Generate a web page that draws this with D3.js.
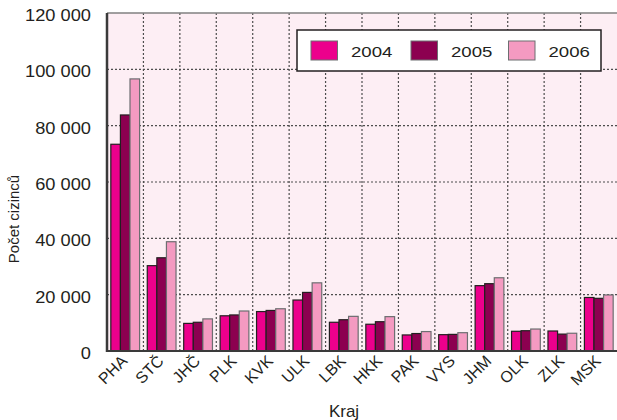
<!DOCTYPE html>
<html><head><meta charset="utf-8">
<script src="https://cdn.jsdelivr.net/npm/d3@7"></script>
<style>body{margin:0;background:#fff}svg{display:block}text{font-family:"Liberation Sans",Arial,sans-serif;fill:#231f20}</style>
</head><body><svg id="c" width="617" height="420"></svg>
<script>
const categories = ["PHA","STČ","JHČ","PLK","KVK","ULK","LBK","HKK","PAK","VYS","JHM","OLK","ZLK","MSK"];
const years = ["2004","2005","2006"];
const v2004 = [73400,30300,9800,12500,14000,18100,10200,9500,5700,5800,23200,7000,7100,19000];
const v2005 = [83800,33100,10200,12800,14400,20800,11100,10400,6200,5900,23900,7200,6000,18700];
const v2006 = [96600,38800,11400,14200,15000,24200,12300,12200,6900,6500,26000,7800,6300,19900];
const yTicks = [0,20000,40000,60000,80000,100000,120000];
const colors = ["#ec008c","#8c0050","#f49ac1"];
const strokes = ["#231f20","#231f20","#6d6e71"];
const series = [v2004,v2005,v2006];

const svg = d3.select("#c");
const L=107, T=13, R=617, B=351;
const x = d3.scaleBand().domain(categories).range([L,R]);
const xs = d3.scaleBand().domain(years).range([0,x.bandwidth()]).paddingOuter(0.4);
const y = d3.scaleLinear().domain([0,120000]).range([B,T]);

svg.append("rect").attr("x",L).attr("y",T).attr("width",R-L).attr("height",B-T).attr("fill","#fdeef4");

const fmt = d => d3.format(",")(d).replace(/,/g," ");
function stretch(sel, k){ sel.each(function(){ const w=this.getComputedTextLength(); d3.select(this).attr("textLength",w*k).attr("lengthAdjust","spacingAndGlyphs"); }); }

// grid
svg.append("g").selectAll("line").data(yTicks.filter(d=>d>0&&d<120000)).join("line")
  .attr("x1",L).attr("x2",R).attr("y1",d=>y(d)).attr("y2",d=>y(d))
  .attr("stroke","#4d4d4d").attr("stroke-width",1.2).attr("stroke-dasharray","2,2");
svg.append("g").selectAll("line").data(categories.slice(1)).join("line")
  .attr("x1",d=>x(d)).attr("x2",d=>x(d)).attr("y1",T).attr("y2",B)
  .attr("stroke","#4d4d4d").attr("stroke-width",1.2).attr("stroke-dasharray","2,2");

// bars
series.forEach((s,i)=>{
  svg.append("g").selectAll("rect").data(s).join("rect")
    .attr("x",(d,j)=>x(categories[j])+xs(years[i]))
    .attr("y",d=>y(d)).attr("width",xs.bandwidth()).attr("height",d=>B-y(d))
    .attr("fill",colors[i]).attr("stroke",strokes[i]).attr("stroke-width",1.2);
});

// frame
svg.append("line").attr("x1",L).attr("x2",R).attr("y1",T).attr("y2",T).attr("stroke","#808080").attr("stroke-width",1.5);
svg.append("line").attr("x1",L).attr("x2",R).attr("y1",B).attr("y2",B).attr("stroke","#3a3a3a").attr("stroke-width",2);
svg.append("line").attr("x1",L).attr("x2",L).attr("y1",T).attr("y2",B+1).attr("stroke","#3a3a3a").attr("stroke-width",2.5);

// y axis
const ya = svg.append("g").attr("transform",`translate(${L},0)`)
  .call(d3.axisLeft(y).tickValues(yTicks).tickFormat(fmt).tickSize(0).tickPadding(16));
ya.select(".domain").remove();
ya.selectAll("text").attr("font-size",16.3).attr("dy","0.46em").style("fill","#231f20").attr("font-family","Liberation Sans, Arial, sans-serif");
stretch(ya.selectAll("text"), 1.12);

// x labels rotated -45°
svg.append("g").selectAll("text").data(categories).join("text")
  .attr("transform",d=>`translate(${x(d)+x.bandwidth()/2+3},${B+11}) rotate(-45)`)
  .attr("font-size",16).attr("text-anchor","end").text(d=>d);

// titles
svg.append("text").attr("x",344).attr("y",417).attr("text-anchor","middle").attr("font-size",17).text("Kraj");
svg.append("text").attr("transform","translate(19,219) rotate(-90)").attr("text-anchor","middle").attr("font-size",15).text("Počet cizinců");

// legend
const lg = svg.append("g");
lg.append("rect").attr("x",297).attr("y",30).attr("width",304).attr("height",41).attr("fill","#fff").attr("stroke","#231f20").attr("stroke-width",1.5);
const lx = [311,411,508.5];
years.forEach((yr,i)=>{
  lg.append("rect").attr("x",lx[i]).attr("y",41).attr("width",26.5).attr("height",19).attr("fill",colors[i]).attr("stroke","#6d6e71").attr("stroke-width",1);
  const t = lg.append("text").attr("x",lx[i]+40).attr("y",56.5).attr("font-size",15.5).text(yr);
  stretch(t, 1.2);
});
</script></body></html>
